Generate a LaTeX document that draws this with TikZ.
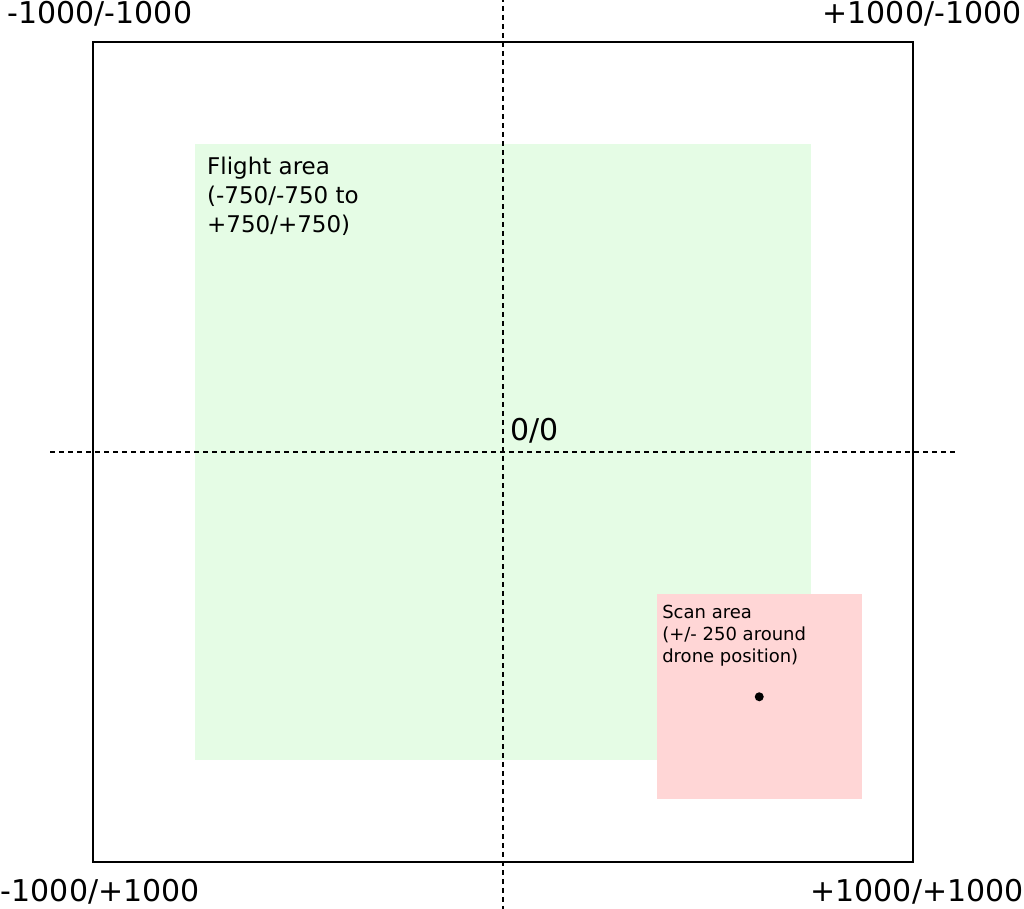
\documentclass[tikz,border=0pt]{standalone}
\usepackage{fontspec}
\setmainfont{DejaVu Sans}

\definecolor{flightgreen}{RGB}{229,252,229}
\definecolor{scanred}{RGB}{255,214,214}

\tikzset{
  axis/.style={dash pattern=on 5pt off 4pt, line width=1.8pt},
  border/.style={line width=2pt},
  corner/.style={font=\fontsize{30}{36}\selectfont, inner sep=0pt, anchor=base},
  areatext/.style={align=left, anchor=north west, inner sep=0pt},
}

\begin{document}
\begin{tikzpicture}[x=0.41pt,y=-0.41pt]
\useasboundingbox (-1226.8,-1102.4) rectangle (1270.7,1112.2);

% areas
\fill[flightgreen] (-750,-750) rectangle (750,750);
\fill[scanred] (375,347) rectangle (875,847);
\coordinate (drone) at (625,597);
\fill (drone) circle (4.5pt);

% outer field
\draw[border] (-1000,-1000) rectangle (1000,1000);

% axes
\coordinate (xl) at (-1104,0);
\coordinate (xr) at (1107,0);
\coordinate (yt) at (0,-1110);
\coordinate (yb) at (0,1115);
\draw[axis] (xl) -- (xr);
\draw[axis] (yt) -- (yb);

% labels
\node[corner] (c1) at (-983,-1044) {-1000/-1000};
\node[corner] (c2) at (1022,-1044) {+1000/-1000};
\node[corner] (c3) at (-982,1097) {-1000/+1000};
\node[corner] (c4) at (1010,1097) {+1000/+1000};
\node[corner, anchor=base west] (o) at (17,-29) {0/0};

\node[areatext, font=\fontsize{23}{29}\selectfont] (flight) at (-722,-721)
  {Flight area\\(-750/-750 to\\+750/+750)};
\node[areatext, font=\fontsize{18}{22}\selectfont] (scan) at (388,374)
  {Scan area\\(+/- 250 around\\drone position)};
\end{tikzpicture}
\end{document}
